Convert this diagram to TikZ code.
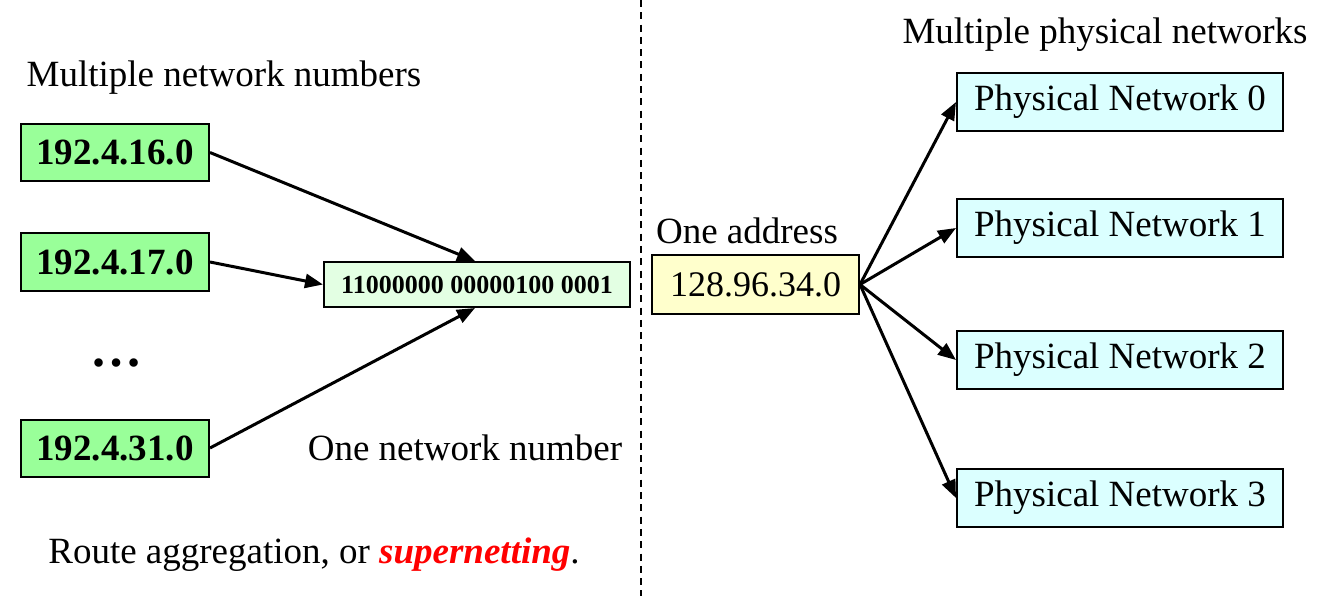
\documentclass[tikz,border=0pt]{standalone}
\usepackage{fontspec}
\setmainfont{Liberation Serif}
\usetikzlibrary{arrows.meta}
\definecolor{ipgreen}{HTML}{99FF99}
\definecolor{bingreen}{HTML}{E3FFE3}
\definecolor{addryellow}{HTML}{FFFFCC}
\definecolor{netcyan}{HTML}{DBFFFF}

\begin{document}
\begin{tikzpicture}[
  x=1pt,
  y=-1pt,
  ipbox/.style={draw,line width=2pt,fill=ipgreen,minimum width=188pt,minimum height=57pt,inner sep=0pt,font=\fontsize{37}{44}\selectfont\bfseries},
  binbox/.style={draw,line width=2pt,fill=bingreen,minimum width=306pt,minimum height=45pt,inner sep=0pt,font=\fontsize{26}{31}\selectfont\bfseries},
  addrbox/.style={draw,line width=2pt,fill=addryellow,minimum width=207pt,minimum height=59pt,inner sep=0pt,font=\fontsize{36}{43}\selectfont},
  netbox/.style={draw,line width=2pt,fill=netcyan,minimum width=326pt,minimum height=58pt,inner sep=0pt,font=\fontsize{37}{44}\selectfont},
  lab/.style={inner sep=0pt,font=\fontsize{37}{44}\selectfont},
  arr/.style={line width=3pt,-{Triangle[length=18pt,width=14pt]}},
  sep/.style={line width=2pt,dash pattern=on 7pt off 5.3pt}
]
\useasboundingbox (0,0) rectangle (1323,596);
% left side: aggregation
\draw[sep] (641,0) -- (641,596);
\node[lab] (numslab) at (224,78) {Multiple network numbers};
\node[ipbox] (net16) at (115,152.5) {192.4.16.0};
\node[ipbox] (net17) at (115,262) {192.4.17.0};
\node[ipbox] (net31) at (115,448) {192.4.31.0};
\node[inner sep=0pt,font=\fontsize{52}{60}\selectfont\bfseries] (dots) at (116,363) {…};
\node[binbox] (prefix) at (477,284.5) {11000000 00000100 0001};
\node[lab] (onenum) at (465,448) {One network number};
\node[lab] (route) at (314,555) {Route aggregation, or \textcolor{red}{\textbf{\textit{supernetting}}}.};
\draw[arr] (net16.east) -- ([xshift=-2pt]prefix.north);
\draw[arr] (net17.east) -- (prefix.west);
\draw[arr] (net31.east) -- ([xshift=-2pt]prefix.south);
% right side: subnetting
\node[lab] (physlab) at (1105,35) {Multiple physical networks};
\node[lab] (addrlab) at (747,231) {One address};
\node[addrbox] (addr) at (755.5,284.5) {128.96.34.0};
\foreach \i/\y in {0/102,1/228,2/360,3/498} {
  \node[netbox] (phys\i) at (1120,\y) {Physical Network \i};
  \draw[arr] (addr.east) -- (phys\i.west);
}
\end{tikzpicture}
\end{document}
